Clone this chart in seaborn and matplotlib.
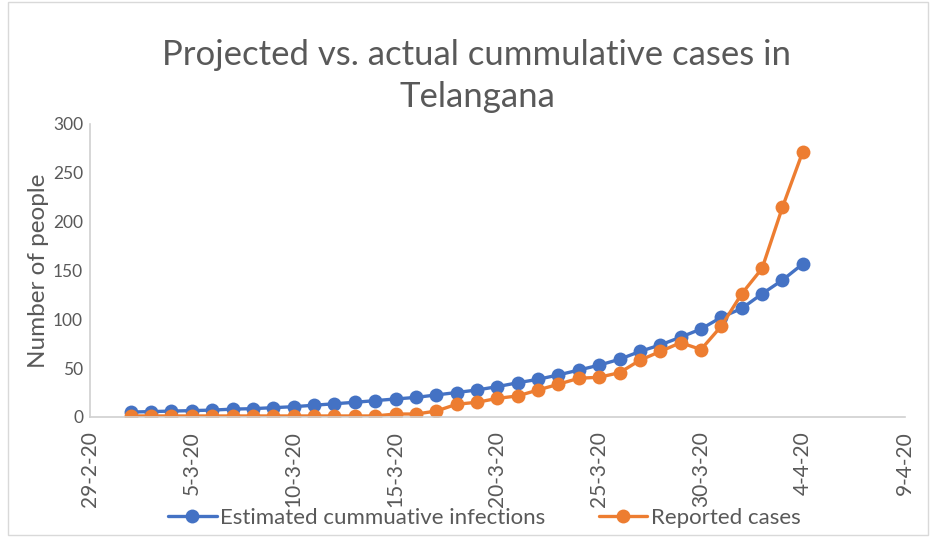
import pandas as pd
import seaborn as sns
import matplotlib.pyplot as plt
import matplotlib.dates as mdates

# daily values, 2-3-20 .. 4-4-20
dates = pd.date_range('2020-03-02', '2020-04-04', freq='D')
estimated = [5, 5.5, 6, 6.5, 7, 8, 8.5, 9.5, 10.5, 12, 13.5, 15, 16.7, 18.4, 20,
             22.5, 25, 27.6, 31, 35, 38.5, 43, 48, 53, 59, 67, 73.7, 81.6, 90,
             102, 111, 126, 140, 156.6]
reported = [1, 1, 1, 1, 1, 1, 1, 1, 1, 1, 1, 1, 1, 3, 3, 6, 13, 15, 19, 21.5,
            27.6, 33.5, 39.6, 40.6, 45.3, 58, 67, 76, 69, 93, 126, 152, 214.6,
            271.5]

series_names = ['Estimated cummuative infections', 'Reported cases']
colors = ['#4472C4', '#ED7D31']

df = pd.DataFrame({'date': list(dates) * 2,
                   'value': estimated + reported,
                   'series': [series_names[0]] * len(dates) + [series_names[1]] * len(dates)})

sns.set_style('white')
plt.rcParams['font.family'] = ['Lato', 'DejaVu Sans']
text_color = '#595959'

fig = plt.figure(figsize=(9.31, 5.38), dpi=100)
ax = fig.add_axes([0.0967, 0.225, 0.875, 0.545])

sns.lineplot(data=df, x='date', y='value', hue='series', palette=colors,
             marker='o', markersize=10, markeredgewidth=0, linewidth=2.4,
             ax=ax, legend=True)

ax.set_xlim(pd.Timestamp('2020-02-29'), pd.Timestamp('2020-04-09'))
ax.set_ylim(0, 300)
ax.set_yticks(range(0, 301, 50))
ax.set_xticks(pd.date_range('2020-02-29', '2020-04-09', freq='5D'))
ax.xaxis.set_major_formatter(mdates.DateFormatter('%-d-%-m-%y'))
ax.tick_params(axis='x', rotation=90, labelsize=15, colors=text_color, length=0, pad=10)
ax.tick_params(axis='y', labelsize=12.5, colors=text_color, length=0, pad=5)

for side in ['top', 'right']:
    ax.spines[side].set_visible(False)
for side in ['left', 'bottom']:
    ax.spines[side].set_color('#D0D0D0')
    ax.spines[side].set_linewidth(1.2)

ax.set_xlabel('')
ax.set_ylabel('Number of people', fontsize=17.5, color=text_color)
ax.yaxis.set_label_coords(-0.05, 0.5)
ax.set_title('Projected vs. actual cummulative cases in\nTelangana', fontsize=25,
             color=text_color, pad=12, linespacing=1.4, x=0.475)

handles, labels = ax.get_legend_handles_labels()
ax.get_legend().remove()
fig.legend(handles, labels, loc='center', bbox_to_anchor=(0.52, 0.037), ncol=2,
           frameon=False, fontsize=16, labelcolor=text_color, handlelength=2.2,
           columnspacing=2.4, handletextpad=0.15, borderpad=0)

# chart border
fig.add_artist(plt.Rectangle((0.009, 0.006), 0.988, 0.99, transform=fig.transFigure,
                             fill=False, edgecolor='#D9D9D9', linewidth=1))

fig.savefig('out.png', dpi=100)
